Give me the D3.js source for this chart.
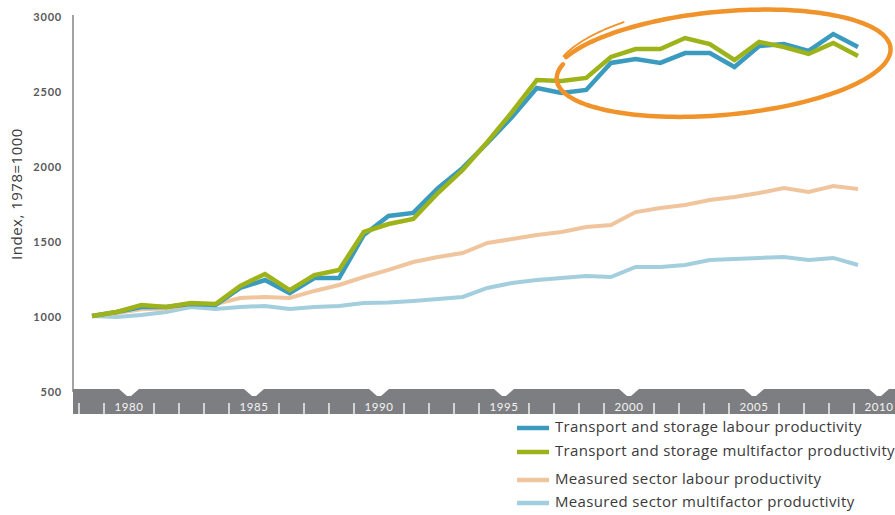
<!DOCTYPE html>
<html>
<head>
<meta charset="utf-8">
<script src="https://cdn.jsdelivr.net/npm/d3@7"></script>
<style>
  html, body { margin: 0; padding: 0; background: #fff; }
  svg { display: block; }
</style>
</head>
<body>
<svg id="chart" width="895" height="515"></svg>
<script>
// ---------- DATA ----------
const years = [1978, 1979, 1980, 1981, 1982, 1983, 1984, 1985, 1986, 1987,
               1988, 1989, 1990, 1991, 1992, 1993, 1994, 1995, 1996, 1997,
               1998, 1999, 2000, 2001, 2002, 2003, 2004, 2005, 2006, 2007,
               2008, 2009];

const transportLabour = [1000, 1027, 1060, 1060, 1080, 1073, 1187, 1240, 1153, 1253,
                         1253, 1540, 1667, 1687, 1853, 1987, 2153, 2327, 2520, 2487,
                         2507, 2687, 2713, 2687, 2753, 2753, 2660, 2800, 2813, 2767,
                         2880, 2793];

const transportMFP = [1000, 1027, 1073, 1060, 1087, 1080, 1200, 1280, 1173, 1273,
                      1307, 1560, 1613, 1647, 1820, 1973, 2160, 2360, 2573, 2567,
                      2587, 2727, 2780, 2780, 2853, 2813, 2707, 2827, 2793, 2747,
                      2820, 2733];

const measuredLabour = [1000, 1020, 1045, 1050, 1075, 1080, 1120, 1127, 1120, 1167,
                        1207, 1260, 1307, 1360, 1393, 1420, 1487, 1513, 1540, 1560,
                        1593, 1607, 1693, 1720, 1740, 1773, 1793, 1820, 1853, 1827,
                        1867, 1847];

const measuredMFP = [1000, 993, 1007, 1027, 1060, 1047, 1060, 1067, 1047, 1060,
                     1067, 1087, 1090, 1100, 1113, 1127, 1187, 1220, 1240, 1253,
                     1267, 1260, 1327, 1327, 1340, 1373, 1380, 1387, 1393, 1373,
                     1387, 1340];

const yTicks = [500, 1000, 1500, 2000, 2500, 3000];
const axisYears = [1978, 1979, 1980, 1981, 1982, 1983, 1984, 1985, 1986, 1987,
                   1988, 1989, 1990, 1991, 1992, 1993, 1994, 1995, 1996, 1997,
                   1998, 1999, 2000, 2001, 2002, 2003, 2004, 2005, 2006, 2007,
                   2008, 2009, 2010];
const labelYears = [1980, 1985, 1990, 1995, 2000, 2005, 2010];

const seriesNames = [
  "Transport and storage labour productivity",
  "Transport and storage multifactor productivity",
  "Measured sector labour productivity",
  "Measured sector multifactor productivity"
];
const seriesColors = ["#3a9bbf", "#9db319", "#f0c59d", "#a2cedd"];

// ---------- SCALES ----------
const svg = d3.select("#chart");
const FONT = "Lato, 'Open Sans', sans-serif";
const FONT2 = "'Open Sans', Lato, sans-serif";

const y = d3.scaleLinear().domain([500, 3000]).range([391, 16]);
const xData = d3.scalePoint().domain(years).range([92, 858]);
const xAxis = d3.scaleLinear().domain([1978, 2010]).range([79, 879]);

// ---------- Y AXIS ----------
svg.append("line")
  .attr("x1", 73).attr("x2", 73)
  .attr("y1", y(3000) - 1).attr("y2", 392)
  .attr("stroke", "#a3a3a3").attr("stroke-width", 2);

svg.append("g").selectAll("text")
  .data(yTicks).join("text")
  .attr("x", 62)
  .attr("y", d => y(d) + 2)
  .attr("text-anchor", "end")
  .attr("dominant-baseline", "middle")
  .attr("font-family", FONT)
  .attr("font-weight", 700)
  .attr("font-size", 11)
  .attr("letter-spacing", 0.8)
  .attr("fill", "#58585a")
  .text(d => d);

svg.append("text")
  .attr("transform", `translate(22, ${194}) rotate(-90)`)
  .attr("text-anchor", "middle")
  .attr("font-family", FONT2)
  .attr("font-size", 15)
  .attr("letter-spacing", 0.5)
  .attr("fill", "#3c3c3c")
  .text("Index, 1978=1000");

// ---------- X AXIS BAND ----------
const bandTop = 389, bandBot = 414, notchW = 10, notchD = 7;
let bandPath = d3.path();
bandPath.moveTo(73, bandTop);
labelYears.forEach(yr => {
  const cx = xAxis(yr);
  bandPath.lineTo(cx - notchW, bandTop);
  bandPath.lineTo(cx - 2, bandTop + notchD);
  bandPath.lineTo(cx + 2, bandTop + notchD);
  bandPath.lineTo(cx + notchW, bandTop);
});
bandPath.lineTo(895, bandTop);
bandPath.lineTo(895, bandBot);
bandPath.lineTo(73, bandBot);
bandPath.closePath();
svg.append("path").attr("d", bandPath.toString()).attr("fill", "#7d7e81");

svg.append("g").selectAll("line")
  .data(axisYears.filter(d => !labelYears.includes(d))).join("line")
  .attr("x1", d => xAxis(d)).attr("x2", d => xAxis(d))
  .attr("y1", 403).attr("y2", bandBot)
  .attr("stroke", "#f2f2f2").attr("stroke-width", 1.5);

svg.append("g").selectAll("text")
  .data(labelYears).join("text")
  .attr("x", d => xAxis(d))
  .attr("y", 411)
  .attr("text-anchor", "middle")
  .attr("font-family", FONT)
  .attr("font-size", 11.5)
  .attr("letter-spacing", 0.6)
  .attr("fill", "#f4f4f4")
  .text(d => d);

// ---------- LINES ----------
const line = d3.line()
  .x((d, i) => xData(years[i]))
  .y(d => y(d));

const drawOrder = [
  { data: measuredMFP, color: seriesColors[3], w: 4 },
  { data: measuredLabour, color: seriesColors[2], w: 4 },
  { data: transportLabour, color: seriesColors[0], w: 4.5 },
  { data: transportMFP, color: seriesColors[1], w: 4.5 }
];
drawOrder.forEach(s => {
  svg.append("path")
    .datum(s.data)
    .attr("d", line)
    .attr("fill", "none")
    .attr("stroke", s.color)
    .attr("stroke-width", s.w)
    .attr("stroke-linejoin", "miter")
    .attr("stroke-linecap", "butt");
});

// ---------- HAND-DRAWN ELLIPSE ANNOTATION ----------
(function () {
  const cx = xAxis(2003.75), cy = y(2680);
  const rx = 170, ry = 52, rot = -5.4 * Math.PI / 180;
  const pts = [];
  const t0 = -Math.PI + 0.42, t1 = Math.PI + 0.30;
  const n = 160;
  for (let k = 0; k <= n; k++) {
    const f = k / n;
    const t = t0 + (t1 - t0) * f;
    const sx = rx * (1.0 - 0.02 * f);
    const sy = ry * (1.02 - 0.06 * f);
    const ex = sx * Math.cos(t), ey = sy * Math.sin(t);
    pts.push([cx + ex * Math.cos(rot) - ey * Math.sin(rot),
              cy + ex * Math.sin(rot) + ey * Math.cos(rot)]);
  }
  svg.append("path")
    .attr("d", d3.line().curve(d3.curveBasis)(pts))
    .attr("fill", "none")
    .attr("stroke", "#f0932b")
    .attr("stroke-width", 4.5)
    .attr("stroke-linecap", "round");
  const tail = [];
  for (let k = 0; k <= 30; k++) {
    const t = -Math.PI + 0.38 + 0.6 * k / 30;
    const ex = rx * 1.0 * Math.cos(t), ey = ry * 1.18 * Math.sin(t);
    tail.push([cx + ex * Math.cos(rot) - ey * Math.sin(rot),
               cy + ex * Math.sin(rot) + ey * Math.cos(rot)]);
  }
  svg.append("path")
    .attr("d", d3.line()(tail))
    .attr("fill", "none")
    .attr("stroke", "#f0932b")
    .attr("stroke-width", 1.8)
    .attr("stroke-linecap", "round");
})();

// ---------- LEGEND ----------
const legendY = [428, 452, 480, 503];
const lg = svg.append("g");
seriesNames.forEach((name, i) => {
  lg.append("line")
    .attr("x1", 517).attr("x2", 549)
    .attr("y1", legendY[i]).attr("y2", legendY[i])
    .attr("stroke", seriesColors[i]).attr("stroke-width", 4.5);
  lg.append("text")
    .attr("x", 555).attr("y", legendY[i])
    .attr("dominant-baseline", "middle")
    .attr("font-family", FONT2)
    .attr("font-size", 15)
    .attr("letter-spacing", 0.35)
    .attr("fill", "#3a3a3a")
    .text(name);
});
</script>
</body>
</html>
